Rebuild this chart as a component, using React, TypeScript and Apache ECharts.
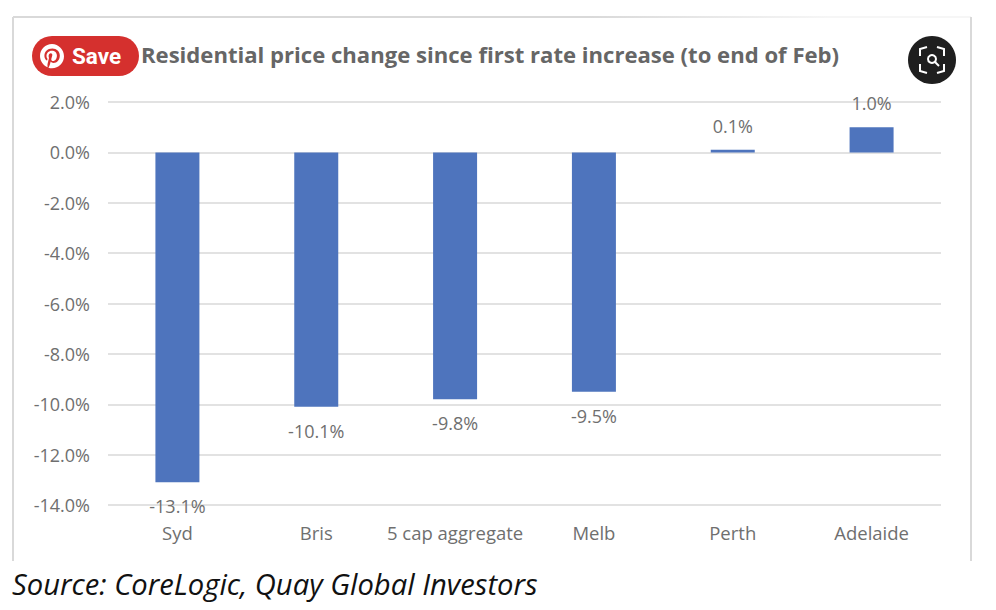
import { useEffect, useRef } from 'react'
import * as echarts from 'echarts'

const CATEGORIES = ['Syd', 'Bris', '5 cap aggregate', 'Melb', 'Perth', 'Adelaide']
const VALUES = [-13.1, -10.1, -9.8, -9.5, 0.1, 1.0]

const TEXT_COLOR = '#6f6f6f'
const BAR_COLOR = '#4e74bd'
const GRID_COLOR = '#e2e2e2'
const FRAME_COLOR = '#d9d9d9'

// pinterest glyph, 24x24 box
const PIN_PATH =
  'M12 0C5.4 0 0 5.4 0 12c0 5.1 3.2 9.4 7.6 11.2-.1-.9-.2-2.4 0-3.4.2-.9 1.4-5.9 1.4-5.9s-.4-.7-.4-1.8c0-1.7 1-2.9 2.2-2.9 1 0 1.5.8 1.5 1.7 0 1-.7 2.6-1 4-.3 1.2.6 2.2 1.8 2.2 2.1 0 3.8-2.2 3.8-5.5 0-2.9-2.1-4.9-5-4.9-3.4 0-5.4 2.6-5.4 5.2 0 1 .4 2.1.9 2.7.1.1.1.2.1.3-.1.4-.3 1.2-.3 1.4-.1.2-.2.3-.4.2-1.5-.7-2.4-2.9-2.4-4.7 0-3.8 2.8-7.3 8-7.3 4.2 0 7.4 3 7.4 7 0 4.2-2.6 7.5-6.3 7.5-1.2 0-2.4-.6-2.8-1.4l-.8 2.9c-.3 1.1-1 2.4-1.5 3.2 1.1.4 2.3.6 3.6.6 6.6 0 12-5.4 12-12S18.6 0 12 0z'
echarts.graphic.registerShape('pin', echarts.graphic.extendPath(PIN_PATH, {}))

export default function App() {
  const ref = useRef<HTMLDivElement>(null)

  useEffect(() => {
    document.body.style.margin = '0'
    const chart = echarts.init(ref.current!, undefined, { renderer: 'svg' })
    chart.setOption({
      animation: false,
      backgroundColor: '#fff',
      grid: { left: 108, right: 55, top: 102, bottom: 105 },
      xAxis: {
        type: 'category',
        data: CATEGORIES,
        position: 'bottom',
        axisLine: { show: false, onZero: false },
        axisTick: { show: false },
        axisLabel: {
          color: TEXT_COLOR,
          fontSize: 18.5,
          fontFamily: '"Open Sans", sans-serif',
          margin: 18,
          interval: 0,
        },
      },
      yAxis: {
        type: 'value',
        min: -14,
        max: 2,
        interval: 2,
        axisLine: { show: false },
        axisTick: { show: false },
        axisLabel: {
          color: TEXT_COLOR,
          fontSize: 18,
          fontFamily: '"Open Sans", sans-serif',
          margin: 18,
          formatter: (v: number) => v.toFixed(1) + '%',
        },
        splitLine: { lineStyle: { color: GRID_COLOR, width: 2 } },
      },
      series: [
        {
          type: 'bar',
          data: VALUES,
          barWidth: 44,
          itemStyle: { color: BAR_COLOR },
          label: {
            show: true,
            position: 'outside',
            distance: 15,
            color: TEXT_COLOR,
            fontSize: 18,
            fontFamily: '"Open Sans", sans-serif',
            formatter: (p: any) => p.value.toFixed(1) + '%',
          },
        },
      ],
      graphic: [
        // frame round the pasted chart, top edge fades out to the right
        { type: 'line', shape: { x1: 13, y1: 17, x2: 13, y2: 561 }, style: { stroke: FRAME_COLOR, lineWidth: 2 } },
        {
          type: 'line',
          shape: { x1: 13, y1: 17, x2: 971, y2: 17 },
          style: {
            stroke: new echarts.graphic.LinearGradient(13, 0, 971, 0, [
              { offset: 0, color: FRAME_COLOR },
              { offset: 0.6, color: FRAME_COLOR },
              { offset: 0.85, color: '#f6f6f6' },
              { offset: 1, color: '#f6f6f6' },
            ], true),
            lineWidth: 2,
          },
        },
        { type: 'line', shape: { x1: 971, y1: 17, x2: 971, y2: 561 }, style: { stroke: FRAME_COLOR, lineWidth: 2 } },
        {
          type: 'text',
          x: 141,
          y: 54,
          style: {
            text: 'Residential price change since first rate increase (to end of Feb)',
            fill: '#666666',
            font: 'bold 22.1px "Open Sans", sans-serif',
            textVerticalAlign: 'middle',
          },
        },
        {
          type: 'text',
          x: 12,
          y: 584,
          style: {
            text: 'Source: CoreLogic, Quay Global Investors',
            fill: '#111111',
            font: 'italic 29.2px "Open Sans", sans-serif',
            textVerticalAlign: 'middle',
          },
        },
        // pinterest save button
        { type: 'rect', shape: { x: 32, y: 36, width: 107, height: 40, r: 20 }, style: { fill: '#d5302e' } },
        { type: 'pin', x: 40, y: 44, scaleX: 1, scaleY: 1, style: { fill: '#fff' } },
        {
          type: 'text',
          x: 72,
          y: 56,
          style: { text: 'Save', fill: '#fff', font: 'bold 22.5px Roboto, sans-serif', textVerticalAlign: 'middle' },
        },
        // lens button
        { type: 'circle', shape: { cx: 932, cy: 60, r: 24 }, style: { fill: '#1f1f1f' } },
        { type: 'circle', shape: { cx: 932, cy: 59, r: 4 }, style: { fill: 'none', stroke: '#fff', lineWidth: 2 } },
        { type: 'line', shape: { x1: 935, y1: 62, x2: 939, y2: 66 }, style: { stroke: '#fff', lineWidth: 2 } },
        { type: 'polyline', shape: { points: [[920, 56], [920, 49], [927, 47]] }, style: { fill: 'none', stroke: '#fff', lineWidth: 2 } },
        { type: 'polyline', shape: { points: [[937, 47], [944, 49], [944, 56]] }, style: { fill: 'none', stroke: '#fff', lineWidth: 2 } },
        { type: 'polyline', shape: { points: [[920, 64], [920, 71], [927, 73]] }, style: { fill: 'none', stroke: '#fff', lineWidth: 2 } },
        { type: 'polyline', shape: { points: [[937, 73], [944, 71], [944, 64]] }, style: { fill: 'none', stroke: '#fff', lineWidth: 2 } },
      ],
    })
    return () => chart.dispose()
  }, [])

  return <div ref={ref} style={{ width: 996, height: 610 }} />
}
